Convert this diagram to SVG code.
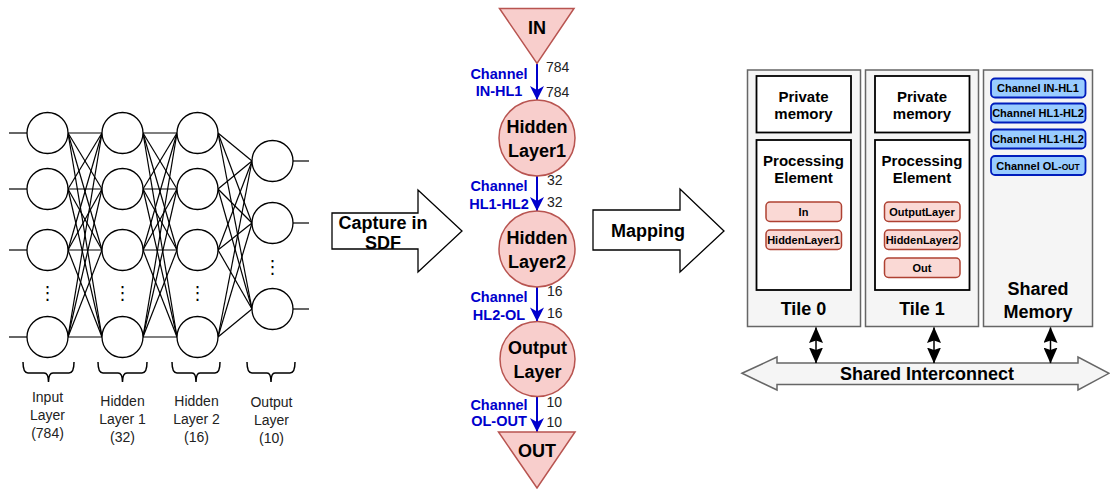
<svg xmlns="http://www.w3.org/2000/svg" width="1110" height="489" viewBox="0 0 1110 489">
<style>
text{font-family:"Liberation Sans",Arial,sans-serif;fill:#000}
.b{font-weight:bold}
.nn{fill:#fff;stroke:#000;stroke-width:1.3}
.e line{stroke:#000;stroke-width:1.2}
.brace{fill:none;stroke:#000;stroke-width:1.5}
.lbl{font-size:14px;fill:#222;text-anchor:middle}
.dots{font-family:"DejaVu Sans",sans-serif;font-size:18px;text-anchor:middle}
.sdf{fill:#f8cecc;stroke:#b85450;stroke-width:1.5}
.node{font-size:18px;font-weight:bold;text-anchor:middle}
.ch{font-size:14.5px;font-weight:bold;fill:#0000CC;text-anchor:middle}
.num{font-size:14px;fill:#222}
.blk{fill:#fff;stroke:#000;stroke-width:1.3}
.tile{fill:#f5f5f5;stroke:#666;stroke-width:1.5}
.box{fill:#fff;stroke:#000;stroke-width:1.8}
.t15{font-size:15px;font-weight:bold;text-anchor:middle}
.t18{font-size:18px;font-weight:bold;text-anchor:middle}
.act{fill:#fad9d5;stroke:#ae4132;stroke-width:1.5}
.t11{font-size:11px;font-weight:bold;text-anchor:middle}
.chb{fill:#99ccff;stroke:#001dbc;stroke-width:1.8}
.bus{stroke:#000;stroke-width:1.5}
</style>
<defs>
<marker id="blueHead" markerUnits="userSpaceOnUse" viewBox="0 0 16 16" markerWidth="16" markerHeight="16" refX="15" refY="8" orient="auto"><path d="M1,1 L15,8 L1,15 L5,8 z" fill="#0000CC"/></marker>
<marker id="blackHead" markerUnits="userSpaceOnUse" viewBox="0 0 16 14" markerWidth="16" markerHeight="14" refX="15.5" refY="7" orient="auto-start-reverse"><path d="M0,0 L16,7 L0,14 L2.5,7 z" fill="#000"/></marker>
</defs>

<!-- Neural network connectors -->
<g id="nn-connectors" class="e">
<line x1="9" y1="133" x2="27" y2="133"/><line x1="9" y1="189" x2="27" y2="189"/><line x1="9" y1="250" x2="27" y2="250"/><line x1="9" y1="337" x2="27" y2="337"/>
<line x1="68" y1="133" x2="102" y2="133"/><line x1="68" y1="133" x2="102" y2="189"/><line x1="68" y1="133" x2="102" y2="250"/><line x1="68" y1="133" x2="102" y2="337"/>
<line x1="68" y1="189" x2="102" y2="133"/><line x1="68" y1="189" x2="102" y2="189"/><line x1="68" y1="189" x2="102" y2="250"/><line x1="68" y1="189" x2="102" y2="337"/>
<line x1="68" y1="250" x2="102" y2="133"/><line x1="68" y1="250" x2="102" y2="189"/><line x1="68" y1="250" x2="102" y2="250"/><line x1="68" y1="250" x2="102" y2="337"/>
<line x1="68" y1="337" x2="102" y2="133"/><line x1="68" y1="337" x2="102" y2="189"/><line x1="68" y1="337" x2="102" y2="250"/><line x1="68" y1="337" x2="102" y2="337"/>
<line x1="143" y1="133" x2="177" y2="133"/><line x1="143" y1="133" x2="177" y2="189"/><line x1="143" y1="133" x2="177" y2="250"/><line x1="143" y1="133" x2="177" y2="337"/>
<line x1="143" y1="189" x2="177" y2="133"/><line x1="143" y1="189" x2="177" y2="189"/><line x1="143" y1="189" x2="177" y2="250"/><line x1="143" y1="189" x2="177" y2="337"/>
<line x1="143" y1="250" x2="177" y2="133"/><line x1="143" y1="250" x2="177" y2="189"/><line x1="143" y1="250" x2="177" y2="250"/><line x1="143" y1="250" x2="177" y2="337"/>
<line x1="143" y1="337" x2="177" y2="133"/><line x1="143" y1="337" x2="177" y2="189"/><line x1="143" y1="337" x2="177" y2="250"/><line x1="143" y1="337" x2="177" y2="337"/>
<line x1="218" y1="133" x2="252" y2="161"/><line x1="218" y1="133" x2="252" y2="223"/><line x1="218" y1="133" x2="252" y2="309"/>
<line x1="218" y1="189" x2="252" y2="161"/><line x1="218" y1="189" x2="252" y2="223"/><line x1="218" y1="189" x2="252" y2="309"/>
<line x1="218" y1="250" x2="252" y2="161"/><line x1="218" y1="250" x2="252" y2="223"/><line x1="218" y1="250" x2="252" y2="309"/>
<line x1="218" y1="337" x2="252" y2="161"/><line x1="218" y1="337" x2="252" y2="223"/><line x1="218" y1="337" x2="252" y2="309"/>
<line x1="293" y1="161" x2="309" y2="161"/><line x1="293" y1="223" x2="309" y2="223"/><line x1="293" y1="309" x2="309" y2="309"/>
</g>

<g id="input-layer">
<circle class="nn" cx="47.5" cy="133" r="20.5"/><circle class="nn" cx="47.5" cy="189" r="20.5"/><circle class="nn" cx="47.5" cy="250" r="20.5"/><circle class="nn" cx="47.5" cy="337" r="20.5"/>
<text class="dots" x="47.5" y="299">⋮</text>
<path class="brace" d="M23,362 Q23,373 28,373 L44,373 Q48.5,373 48.5,382 Q48.5,373 53,373 L69,373 Q74,373 74,362"/>
<text class="lbl" x="47.5" y="402">Input</text><text class="lbl" x="47.5" y="420">Layer</text><text class="lbl" x="47.5" y="438">(784)</text>
</g>
<g id="hidden-layer-1">
<circle class="nn" cx="122.5" cy="133" r="20.5"/><circle class="nn" cx="122.5" cy="189" r="20.5"/><circle class="nn" cx="122.5" cy="250" r="20.5"/><circle class="nn" cx="122.5" cy="337" r="20.5"/>
<text class="dots" x="122.5" y="299">⋮</text>
<path class="brace" d="M98,362 Q98,373 103,373 L118,373 Q122.5,373 122.5,382 Q122.5,373 127,373 L142,373 Q147,373 147,362"/>
<text class="lbl" x="122.5" y="406">Hidden</text><text class="lbl" x="122.5" y="424">Layer 1</text><text class="lbl" x="122.5" y="442">(32)</text>
</g>
<g id="hidden-layer-2">
<circle class="nn" cx="197.5" cy="133" r="20.5"/><circle class="nn" cx="197.5" cy="189" r="20.5"/><circle class="nn" cx="197.5" cy="250" r="20.5"/><circle class="nn" cx="197.5" cy="337" r="20.5"/>
<text class="dots" x="197.5" y="299">⋮</text>
<path class="brace" d="M172,362 Q172,373 177,373 L192,373 Q196,373 196,382 Q196,373 200,373 L215,373 Q220,373 220,362"/>
<text class="lbl" x="196.5" y="406">Hidden</text><text class="lbl" x="196.5" y="424">Layer 2</text><text class="lbl" x="196.5" y="442">(16)</text>
</g>
<g id="output-layer">
<circle class="nn" cx="272.5" cy="161" r="20.5"/><circle class="nn" cx="272.5" cy="223" r="20.5"/><circle class="nn" cx="272.5" cy="309" r="20.5"/>
<text class="dots" x="272.5" y="273">⋮</text>
<path class="brace" d="M247,362 Q247,373 252,373 L267,373 Q271,373 271,382 Q271,373 275,373 L290,373 Q295,373 295,362"/>
<text class="lbl" x="271.5" y="407">Output</text><text class="lbl" x="271.5" y="425">Layer</text><text class="lbl" x="271.5" y="443">(10)</text>
</g>

<g id="capture-arrow">
<polygon class="blk" points="332,213 418,213 418,190 462,231 418,272 418,249 332,249"/>
<text class="b" x="383" y="229" font-size="18" text-anchor="middle">Capture in</text>
<text class="b" x="383" y="249" font-size="18" text-anchor="middle">SDF</text>
</g>
<g id="mapping-arrow">
<polygon class="blk" points="593,210 680,210 680,189 724,231 680,272 680,250 593,250"/>
<text class="b" x="648" y="237" font-size="18" text-anchor="middle">Mapping</text>
</g>

<!-- SDF graph connectors -->
<g id="sdf-connectors">
<line x1="537" y1="64" x2="537" y2="100" stroke="#0000CC" stroke-width="2" marker-end="url(#blueHead)"/>
<line x1="537" y1="176" x2="537" y2="211" stroke="#0000CC" stroke-width="2" marker-end="url(#blueHead)"/>
<line x1="537" y1="287" x2="537" y2="321.5" stroke="#0000CC" stroke-width="2" marker-end="url(#blueHead)"/>
<line x1="537" y1="397" x2="537" y2="432" stroke="#0000CC" stroke-width="2" marker-end="url(#blueHead)"/>
<text class="ch" x="499" y="78.5">Channel</text><text class="ch" x="499" y="96">IN-HL1</text>
<text class="num" x="546" y="71.5">784</text><text class="num" x="546" y="96.5">784</text>
<text class="ch" x="499" y="190.5">Channel</text><text class="ch" x="499" y="208.5">HL1-HL2</text>
<text class="num" x="547" y="185">32</text><text class="num" x="547" y="206.5">32</text>
<text class="ch" x="499" y="302">Channel</text><text class="ch" x="499" y="319.5">HL2-OL</text>
<text class="num" x="547" y="295.5">16</text><text class="num" x="547" y="318">16</text>
<text class="ch" x="499" y="409.5">Channel</text><text class="ch" x="499" y="425.5">OL-OUT</text>
<text class="num" x="546.5" y="407">10</text><text class="num" x="546.5" y="426.5">10</text>
</g>

<g id="node-IN">
<polygon class="sdf" points="499.5,8.5 574,8.5 537,63.5"/>
<text class="node" x="537" y="33.5">IN</text>
</g>
<g id="node-HiddenLayer1">
<circle class="sdf" cx="537" cy="138" r="38"/>
<text class="node" x="537" y="133">Hidden</text><text class="node" x="537" y="156.5">Layer1</text>
</g>
<g id="node-HiddenLayer2">
<circle class="sdf" cx="537" cy="249" r="38"/>
<text class="node" x="537" y="244">Hidden</text><text class="node" x="537" y="267.5">Layer2</text>
</g>
<g id="node-OutputLayer">
<circle class="sdf" cx="537.5" cy="359" r="37.5"/>
<text class="node" x="537.5" y="354">Output</text><text class="node" x="537.5" y="377.5">Layer</text>
</g>
<g id="node-OUT">
<polygon class="sdf" points="498.5,432 575,432 537,488"/>
<text class="node" x="537" y="456.5">OUT</text>
</g>

<g id="tile-0">
<rect class="tile" x="747.5" y="70" width="113" height="256.5"/>
<rect class="box" x="756.5" y="76" width="94.5" height="56.5"/>
<text class="t15" x="803.5" y="101.5">Private</text><text class="t15" x="803.5" y="119">memory</text>
<rect class="box" x="756.5" y="140" width="94.5" height="150"/>
<text class="t15" x="803.5" y="165.5">Processing</text><text class="t15" x="803.5" y="183">Element</text>
<rect class="act" x="766" y="202" width="75.5" height="19.5" rx="4"/>
<text class="t11" x="803.5" y="215.5">In</text>
<rect class="act" x="766" y="230" width="75.5" height="19.5" rx="4"/>
<text class="t11" x="803.5" y="243.5">HiddenLayer1</text>
<text class="t18" x="803.5" y="315">Tile 0</text>
</g>
<g id="tile-1">
<rect class="tile" x="865.5" y="70" width="113" height="256.5"/>
<rect class="box" x="875" y="76" width="94.5" height="56.5"/>
<text class="t15" x="922" y="101.5">Private</text><text class="t15" x="922" y="119">memory</text>
<rect class="box" x="875" y="140" width="94.5" height="150"/>
<text class="t15" x="922" y="165.5">Processing</text><text class="t15" x="922" y="183">Element</text>
<rect class="act" x="884.5" y="202" width="75.5" height="19.5" rx="4"/>
<text class="t11" x="922" y="215.5">OutputLayer</text>
<rect class="act" x="884.5" y="230" width="75.5" height="19.5" rx="4"/>
<text class="t11" x="922" y="243.5">HiddenLayer2</text>
<rect class="act" x="884.5" y="258" width="75.5" height="19.5" rx="4"/>
<text class="t11" x="922" y="271.5">Out</text>
<text class="t18" x="922" y="315">Tile 1</text>
</g>
<g id="shared-memory">
<rect class="tile" x="983.5" y="70" width="109" height="256.5"/>
<rect class="chb" x="991" y="78.5" width="94.5" height="19" rx="4"/>
<text class="t11" x="1038" y="92">Channel IN-HL1</text>
<rect class="chb" x="991" y="103.5" width="94.5" height="19" rx="4"/>
<text class="t11" x="1038" y="117">Channel HL1-HL2</text>
<rect class="chb" x="991" y="129.5" width="94.5" height="19" rx="4"/>
<text class="t11" x="1038" y="143">Channel HL1-HL2</text>
<rect class="chb" x="991" y="156" width="94.5" height="19" rx="4"/>
<text class="t11" x="1038" y="169.5">Channel OL-<tspan font-size="8.5">OUT</tspan></text>
<text class="t18" x="1038" y="295">Shared</text><text class="t18" x="1038" y="317.5">Memory</text>
</g>
<g id="shared-interconnect">
<polygon class="tile" points="742,373.3 777,357 777,363 1078,363 1078,357 1109,373.3 1078,390 1078,384.5 777,384.5 777,390"/>
<text class="t18" x="927" y="380">Shared Interconnect</text>
</g>
<g id="bus-connectors">
<line class="bus" x1="816" y1="327.5" x2="816" y2="363" marker-start="url(#blackHead)" marker-end="url(#blackHead)"/>
<line class="bus" x1="934" y1="327.5" x2="934" y2="363" marker-start="url(#blackHead)" marker-end="url(#blackHead)"/>
<line class="bus" x1="1050.5" y1="327.5" x2="1050.5" y2="363" marker-start="url(#blackHead)" marker-end="url(#blackHead)"/>
</g>
</svg>
